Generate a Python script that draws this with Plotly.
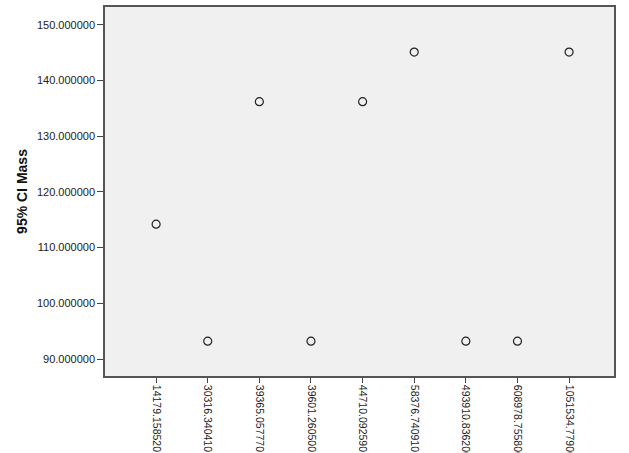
import plotly.graph_objects as go

categories = ["14179.158520", "30316.340410", "39365.057770", "39601.260500",
              "44710.092590", "58376.740910", "493910.836200", "608978.755800",
              "1051534.779000"]
ci_mass = [114.2, 93.2, 136.2, 93.2, 136.2, 145.1, 93.2, 93.2, 145.1]
y_ticks = [90, 100, 110, 120, 130, 140, 150]
y_tick_labels = ["%.6f" % v for v in y_ticks]

fig = go.Figure()
fig.add_trace(go.Scatter(
    x=list(range(len(categories))), y=ci_mass, mode="markers",
    marker=dict(symbol="circle-open", size=8, color="#222222", line=dict(width=1.2)),
    showlegend=False,
))

font_family = "Liberation Sans, Arial, sans-serif"
fig.update_layout(
    width=629, height=453,
    margin=dict(l=105, r=15, t=7, b=77),
    paper_bgcolor="white", plot_bgcolor="#F0F0F0",
    font=dict(family=font_family, size=11, color="#222222"),
    xaxis=dict(
        range=[-0.99, 8.87],
        tickmode="array", tickvals=list(range(len(categories))), ticktext=categories,
        tickangle=90, ticks="outside", ticklen=5, tickcolor="#444444",
        showgrid=False, zeroline=False,
        showline=True, linecolor="#555555", linewidth=1.5, mirror=True,
        automargin=False,
        tickfont=dict(size=10.5, color="#222222"),
    ),
    yaxis=dict(
        range=[86.95, 153.2],
        tickmode="array", tickvals=y_ticks, ticktext=y_tick_labels,
        ticks="outside", ticklen=6, tickcolor="#444444",
        showgrid=False, zeroline=False,
        showline=True, linecolor="#555555", linewidth=1.5, mirror=True,
        automargin=False,
        tickfont=dict(size=11, color="#222222"),
        title=dict(text="<b>95% CI Mass</b>", font=dict(size=14, color="#111111"), standoff=6),
    ),
)

fig.write_html("out.html")
